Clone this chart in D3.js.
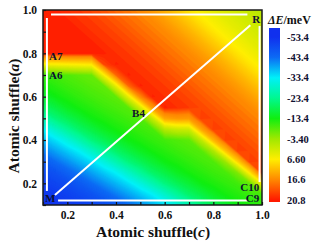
<!DOCTYPE html>
<html>
<head>
<meta charset="utf-8">
<script src="https://cdn.jsdelivr.net/npm/d3@7"></script>
<style>
  body { margin: 0; background: #fff; }
  text { font-family: "Liberation Serif", "Times New Roman", serif; font-weight: bold; fill: #111; }
</style>
</head>
<body>
<svg width="313" height="243"></svg>
<script>
  // grid of the energy map: dE[j][i] is the value at cShuffle[j], aShuffle[i]
  const cShuffle = [0.10, 0.15, 0.20, 0.25, 0.30, 0.35, 0.40, 0.45, 0.50, 0.55, 0.60, 0.65, 0.70, 0.75, 0.80, 0.85, 0.90, 0.95, 1.00];
  const aShuffle = [0.10, 0.15, 0.20, 0.25, 0.30, 0.35, 0.40, 0.45, 0.50, 0.55, 0.60, 0.65, 0.70, 0.75, 0.80, 0.85, 0.90, 0.95, 1.00];
  const dE = [
    [-53.0, -52.1, -51.0, -49.0, -46.0, -42.0, -37.6, -33.0, -26.1, -20.0, -16.0, -13.0, -11.0, 5.5, 20.5, 20.5, 20.5, 20.5, 20.5],
    [-52.4, -51.6, -49.7, -47.4, -43.4, -39.1, -34.6, -28.5, -21.6, -17.4, -13.7, -11.7, -9.9, 6.0, 20.5, 20.5, 20.5, 20.5, 20.5],
    [-51.9, -50.4, -48.4, -44.7, -40.7, -36.1, -30.8, -23.9, -18.7, -14.7, -12.3, -10.4, -9.0, 6.4, 20.5, 20.5, 20.5, 20.5, 20.0],
    [-51.0, -49.0, -46.1, -42.1, -37.7, -33.1, -26.3, -20.1, -16.1, -13.0, -11.0, -9.5, -8.0, 6.8, 20.5, 20.5, 20.5, 20.0, 19.6],
    [-49.7, -47.4, -43.4, -39.2, -34.7, -28.6, -21.8, -17.4, -13.7, -11.7, -9.9, -8.5, -7.3, 7.2, 20.5, 20.5, 20.0, 19.6, 19.1],
    [-48.4, -44.8, -40.7, -36.2, -30.9, -24.1, -18.8, -14.8, -12.4, -10.4, -9.0, -7.7, 5.7, 19.2, 20.5, 20.0, 19.6, 19.1, 18.5],
    [-46.2, -42.1, -37.7, -33.2, -26.4, -20.2, -16.2, -13.1, -11.1, -9.5, -8.0, 4.1, 17.9, 20.5, 20.0, 19.6, 19.1, 18.5, 17.8],
    [-43.5, -39.3, -34.7, -28.7, -21.9, -17.5, -13.8, -11.8, -10.0, -8.5, 3.8, 17.8, 20.5, 20.0, 19.6, 19.1, 18.5, 17.8, 17.2],
    [-40.8, -36.3, -31.0, -24.2, -18.9, -14.9, -12.4, -10.5, -9.0, 2.2, 16.5, 20.5, 20.0, 19.6, 19.1, 18.5, 17.8, 17.2, 16.4],
    [-37.8, -33.3, -26.5, -20.2, -16.2, -13.1, -11.1, -9.5, 0.5, 15.0, 20.5, 20.0, 19.6, 19.1, 18.5, 17.8, 17.2, 16.4, 14.6],
    [-34.8, -28.9, -22.0, -17.6, -13.8, -11.8, -10.0, -1.3, 13.6, 20.5, 20.0, 19.6, 19.1, 18.5, 17.8, 17.2, 16.4, 14.6, 12.5],
    [-31.2, -24.3, -18.9, -14.9, -12.5, -10.5, -9.0, 0.8, 15.1, 20.0, 19.6, 19.1, 18.5, 17.8, 17.2, 16.4, 14.6, 12.5, 10.0],
    [-26.7, -20.3, -16.3, -13.1, -11.2, -9.5, -8.1, 1.3, 14.8, 19.6, 19.1, 18.5, 17.8, 17.2, 16.4, 14.6, 12.5, 10.0, 7.5],
    [-22.2, -17.7, -13.8, -11.8, -10.0, -8.6, -0.4, 13.5, 19.6, 19.1, 18.5, 17.8, 17.2, 16.4, 14.6, 12.5, 10.0, 7.5, 5.6],
    [-19.0, -15.0, -12.5, -10.5, -9.1, -2.1, 12.0, 19.6, 19.1, 18.5, 17.8, 17.2, 16.4, 14.6, 12.5, 10.0, 7.5, 5.6, 4.0],
    [-16.4, -13.2, -11.2, -9.6, -3.8, 10.6, 19.6, 19.1, 18.5, 17.8, 17.2, 16.4, 14.6, 12.5, 10.0, 7.5, 5.6, 4.0, 2.7],
    [-13.9, -11.9, -10.1, -5.7, 9.0, 19.6, 19.1, 18.5, 17.8, 17.2, 16.4, 14.6, 12.5, 10.0, 7.5, 5.6, 4.0, 2.7, 1.5],
    [-12.5, -10.5, -7.6, 7.5, 19.6, 19.1, 18.5, 17.8, 17.2, 16.4, 14.6, 12.5, 10.0, 7.5, 5.6, 4.0, 2.7, 1.5, 0.3],
    [-11.2, -9.6, 5.9, 19.6, 19.1, 18.5, 17.8, 17.2, 16.4, 14.6, 12.5, 10.0, 7.5, 5.6, 4.0, 2.7, 1.5, 0.3, -1.0]
  ];

  // colour legend levels
  const levelLabels = ["-53.4", "-43.4", "-33.4", "-23.4", "-13.4", "-3.40", "6.60", "16.6", "20.8"];
  const levelValues = [-53.4, -43.4, -33.4, -23.4, -13.4, -3.40, 6.60, 16.6, 20.8];
  const levelColors = ["#1030ee", "#0c6af4", "#00f0f8", "#00f890", "#10ee10", "#a0e800", "#ffee00", "#ff8800", "#ff1a00"];

  const xTicks = [0.1, 0.2, 0.3, 0.4, 0.5, 0.6, 0.7, 0.8, 0.9, 1.0];
  const yTicks = [0.1, 0.2, 0.3, 0.4, 0.5, 0.6, 0.7, 0.8, 0.9, 1.0];

  // white paths and point names, in (c, a)
  const whiteLines = [
    [[0.133, 0.979], [0.94, 0.979]],
    [[0.116, 0.963], [0.116, 0.165]],
    [[0.162, 0.121], [0.94, 0.121]],
    [[0.99, 0.926], [0.99, 0.206]],
    [[0.149, 0.146], [0.952, 0.93]]
  ];
  const pointNames = ["M", "A7", "A6", "B4", "R", "C10", "C9"];
  const pointC = [0.108, 0.125, 0.125, 0.466, 0.96, 0.989, 0.989];
  const pointA = [0.114, 0.769, 0.681, 0.506, 0.94, 0.165, 0.114];

  const svg = d3.select("svg"),
        margin = {top: 10, right: 51, bottom: 38, left: 43},
        width = +svg.attr("width"),
        height = +svg.attr("height");

  const x = d3.scaleLinear().domain([0.1, 1.0]).range([margin.left, width - margin.right]);
  const y = d3.scaleLinear().domain([0.1, 1.0]).range([height - margin.bottom, margin.top]);

  const color = d3.scaleLinear().domain(levelValues).range(levelColors).clamp(true);

  svg.append("clipPath").attr("id", "plot")
    .append("rect")
    .attr("x", x(0.1)).attr("y", y(1.0))
    .attr("width", x(1.0) - x(0.1)).attr("height", y(0.1) - y(1.0));

  // contour bands from the grid
  const n = cShuffle.length, m = aShuffle.length;
  const stepC = cShuffle[1] - cShuffle[0], stepA = aShuffle[1] - aShuffle[0];
  const values = new Array(n * m);
  for (let gy = 0; gy < m; gy++)
    for (let gx = 0; gx < n; gx++)
      values[gy * n + gx] = dE[gx][m - 1 - gy];

  const thresholds = d3.range(-54, 21, 0.4);
  const contours = d3.contours().size([n, m]).thresholds(thresholds)(values);

  const proj = d3.geoTransform({
    point(gx, gy) {
      this.stream.point(x(cShuffle[0] + (gx - 0.5) * stepC), y(aShuffle[m - 1] - (gy - 0.5) * stepA));
    }
  });
  const path = d3.geoPath(proj);

  svg.append("g")
    .attr("clip-path", "url(#plot)")
    .selectAll("path")
    .data(contours)
    .enter().append("path")
    .attr("d", path)
    .attr("fill", d => color(d.value + 0.2))
    .attr("stroke", d => color(d.value + 0.2))
    .attr("stroke-width", 0.3);

  // white lines
  const line = d3.line().x(d => x(d[0])).y(d => y(d[1]));
  svg.append("g").selectAll("path")
    .data(whiteLines)
    .enter().append("path")
    .attr("d", line)
    .attr("fill", "none")
    .attr("stroke", "#fff")
    .attr("stroke-width", 2);

  // point names
  svg.append("g").selectAll("text")
    .data(pointNames)
    .enter().append("text")
    .attr("x", (d, i) => x(pointC[i]))
    .attr("y", (d, i) => y(pointA[i]))
    .attr("text-anchor", d => d.startsWith("C") ? "end" : "start")
    .style("font-size", "11px")
    .style("fill", "#101030")
    .text(d => d);

  // axes
  const xAxis = svg.append("g")
    .attr("transform", `translate(0,${y(0.1)})`)
    .call(d3.axisBottom(x).tickValues(xTicks).tickSizeInner(-3).tickSizeOuter(0).tickPadding(6)
      .tickFormat(d => Math.round(d * 10) % 2 === 0 ? d3.format(".1f")(d) : ""));
  const yAxis = svg.append("g")
    .attr("transform", `translate(${x(0.1)},0)`)
    .call(d3.axisLeft(y).tickValues(yTicks).tickSizeInner(-3).tickSizeOuter(0).tickPadding(6)
      .tickFormat(d => Math.round(d * 10) % 2 === 0 ? d3.format(".1f")(d) : ""));
  [xAxis, yAxis].forEach(g => {
    g.select(".domain").remove();
    g.selectAll(".tick line").attr("stroke", "#111").attr("stroke-width", 1.2);
    g.selectAll("text").attr("font-family", null).style("font-size", "11.5px");
  });

  svg.append("rect")
    .attr("x", x(0.1)).attr("y", y(1.0))
    .attr("width", x(1.0) - x(0.1)).attr("height", y(0.1) - y(1.0))
    .attr("fill", "none").attr("stroke", "#1a1a1a").attr("stroke-width", 1.5);

  // axis titles
  const xt = svg.append("text")
    .attr("x", (x(0.1) + x(1.0)) / 2 + 0.5).attr("y", 237)
    .attr("text-anchor", "middle")
    .style("font-size", "15.5px");
  xt.append("tspan").text("Atomic shuffle(");
  xt.append("tspan").style("font-style", "italic").text("c");
  xt.append("tspan").text(")");

  const yt = svg.append("text")
    .attr("transform", "translate(19,116) rotate(-90)")
    .attr("text-anchor", "middle")
    .style("font-size", "15.5px");
  yt.append("tspan").text("Atomic shuffle(");
  yt.append("tspan").style("font-style", "italic").text("a");
  yt.append("tspan").text(")");

  // colour bar
  const barTop = 28, barBottom = 202, barX = 269, barW = 11;
  const barY = d3.scalePoint().domain(levelLabels).range([37, 200]);

  const grad = svg.append("defs").append("linearGradient")
    .attr("id", "bar")
    .attr("gradientUnits", "userSpaceOnUse")
    .attr("x1", 0).attr("x2", 0).attr("y1", barTop).attr("y2", barBottom);
  grad.selectAll("stop")
    .data(levelLabels)
    .enter().append("stop")
    .attr("offset", d => (barY(d) - barTop) / (barBottom - barTop))
    .attr("stop-color", (d, i) => levelColors[i]);

  svg.append("rect")
    .attr("x", barX).attr("y", barTop)
    .attr("width", barW).attr("height", barBottom - barTop)
    .attr("fill", "url(#bar)");

  svg.append("g").selectAll("text")
    .data(levelLabels)
    .enter().append("text")
    .attr("x", 287)
    .attr("y", d => barY(d))
    .attr("dy", "0.35em")
    .style("font-size", "10.5px")
    .style("fill", "#101030")
    .text(d => d);

  const ct = svg.append("text")
    .attr("x", 268).attr("y", 24)
    .style("font-size", "12px");
  ct.append("tspan").style("font-style", "italic").text("ΔE");
  ct.append("tspan").text("/meV");
</script>
</body>
</html>
